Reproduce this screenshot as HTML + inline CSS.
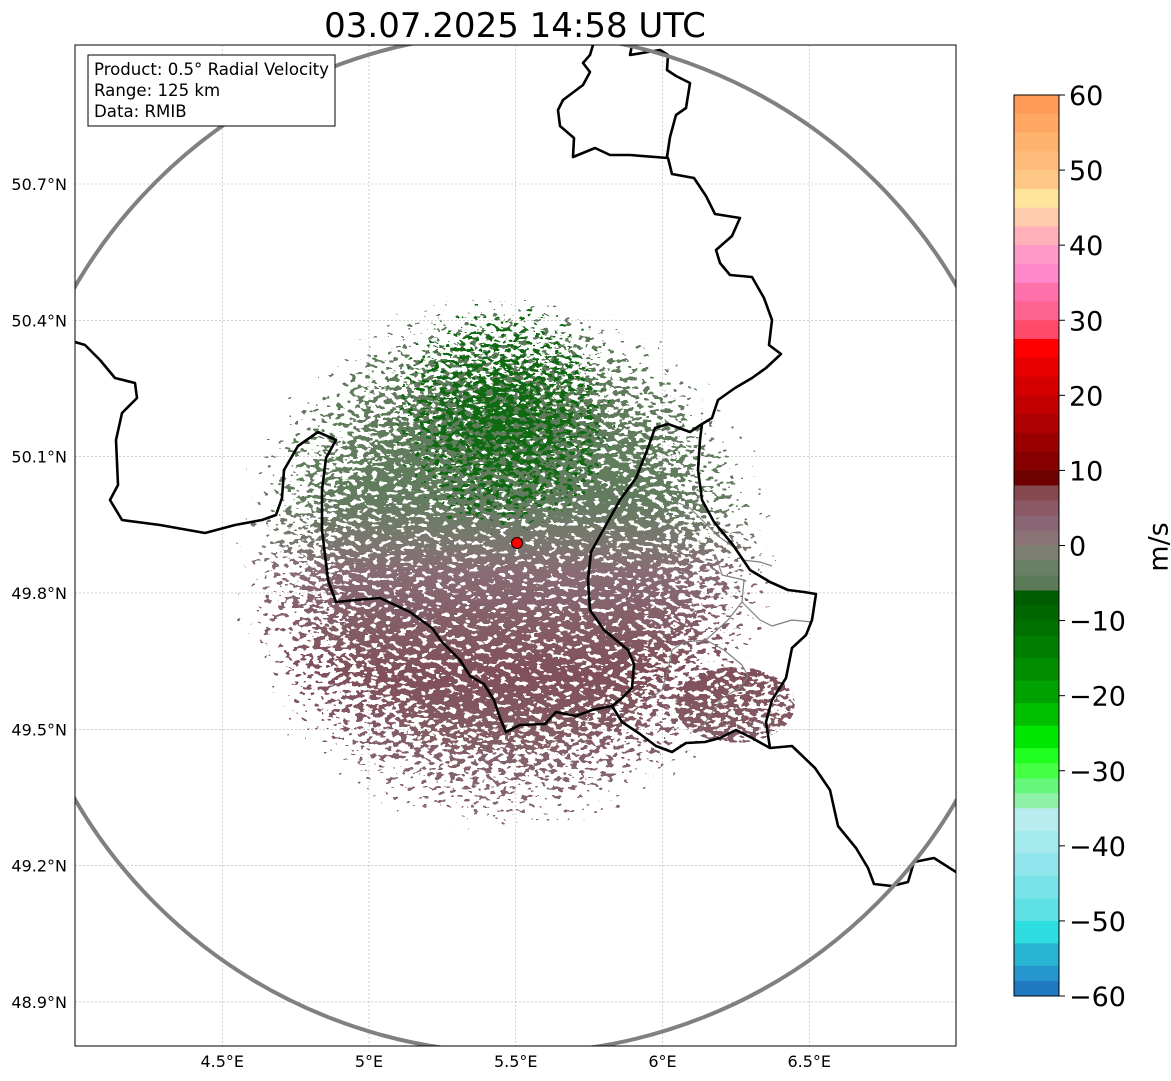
<!DOCTYPE html>
<html><head><meta charset="utf-8">
<style>
html,body{margin:0;padding:0;background:#fff;}
svg{display:block;font-family:"DejaVu Sans","Liberation Sans",sans-serif;}
</style></head>
<body>
<svg id="chart" width="1171" height="1081" viewBox="0 0 1171 1081" xmlns="http://www.w3.org/2000/svg">
<defs>
  <clipPath id="plotClip"><rect x="75" y="45" width="881" height="1001"/></clipPath>
  <filter id="speckle" filterUnits="userSpaceOnUse" x="75" y="45" width="881" height="1001">
    <feTurbulence type="fractalNoise" baseFrequency="0.14 0.22" numOctaves="2" seed="7" result="noise"/>
    <feColorMatrix in="noise" type="matrix" values="0 0 0 0 0  0 0 0 0 0  0 0 0 0 0  1.6 0 0 0 -0.3" result="na"/>
    <feComposite in="SourceAlpha" in2="na" operator="arithmetic" k1="0" k2="1" k3="1" k4="-0.78" result="sum"/>
    <feComponentTransfer in="sum" result="thr"><feFuncA type="discrete" tableValues="0 1"/></feComponentTransfer>
    <feColorMatrix in="thr" type="matrix" values="0 0 0 0 1  0 0 0 0 1  0 0 0 0 1  0 0 0 1 0"/>
  </filter>
  <filter id="speckle2" filterUnits="userSpaceOnUse" x="75" y="45" width="881" height="1001">
    <feTurbulence type="fractalNoise" baseFrequency="0.15 0.25" numOctaves="2" seed="21" result="noise"/>
    <feColorMatrix in="noise" type="matrix" values="0 0 0 0 0  0 0 0 0 0  0 0 0 0 0  1.8 0 0 0 -0.4" result="na"/>
    <feComposite in="SourceAlpha" in2="na" operator="arithmetic" k1="0" k2="1" k3="1" k4="-0.85" result="sum"/>
    <feComponentTransfer in="sum" result="thr"><feFuncA type="discrete" tableValues="0 1"/></feComponentTransfer>
    <feColorMatrix in="thr" type="matrix" values="0 0 0 0 1  0 0 0 0 1  0 0 0 0 1  0 0 0 1 0"/>
  </filter>
  <radialGradient id="echoAlpha" gradientUnits="userSpaceOnUse" cx="505" cy="565" r="300">
    <stop offset="0" stop-color="#fff" stop-opacity="1"/>
    <stop offset="0.5" stop-color="#fff" stop-opacity="0.95"/>
    <stop offset="0.78" stop-color="#fff" stop-opacity="0.6"/>
    <stop offset="1" stop-color="#fff" stop-opacity="0.1"/>
  </radialGradient>
  <radialGradient id="greenAlpha" gradientUnits="userSpaceOnUse" cx="505" cy="420" r="150">
    <stop offset="0" stop-color="#fff" stop-opacity="1"/>
    <stop offset="0.6" stop-color="#fff" stop-opacity="0.7"/>
    <stop offset="1" stop-color="#fff" stop-opacity="0"/>
  </radialGradient>
  <mask id="echoMask" maskUnits="userSpaceOnUse" x="75" y="45" width="881" height="1001">
    <g filter="url(#speckle)">
      <ellipse cx="505" cy="565" rx="300" ry="290" fill="url(#echoAlpha)"/>
      <ellipse cx="735" cy="705" rx="60" ry="38" fill="#fff" fill-opacity="0.75"/>
    </g>
  </mask>
  <mask id="greenMask" maskUnits="userSpaceOnUse" x="75" y="45" width="881" height="1001">
    <g filter="url(#speckle2)">
      <ellipse cx="505" cy="420" rx="110" ry="140" fill="url(#greenAlpha)"/>
    </g>
  </mask>
  <linearGradient id="echoColor" gradientUnits="userSpaceOnUse" x1="0" y1="280" x2="0" y2="860">
    <stop offset="0" stop-color="#5c7a58"/>
    <stop offset="0.38" stop-color="#637c5f"/>
    <stop offset="0.45" stop-color="#7a7870"/>
    <stop offset="0.5" stop-color="#886c74"/>
    <stop offset="0.68" stop-color="#80505c"/>
    <stop offset="0.85" stop-color="#85646c"/>
    <stop offset="1" stop-color="#8a6a72"/>
  </linearGradient>
</defs>

<rect x="0" y="0" width="1171" height="1081" fill="#fff"/>
<text x="515" y="37" font-size="34" text-anchor="middle" fill="#000">03.07.2025 14:58 UTC</text>

<g id="grid" clip-path="url(#plotClip)"></g>

<g clip-path="url(#plotClip)">
  <rect x="75" y="45" width="881" height="1001" fill="url(#echoColor)" mask="url(#echoMask)"/>
  <rect x="75" y="45" width="881" height="1001" fill="#0f6a12" mask="url(#greenMask)"/>
</g>

<g id="borders" clip-path="url(#plotClip)" fill="none" stroke-linejoin="round"></g>

<circle cx="516" cy="543" r="510" fill="none" stroke="#808080" stroke-width="4" clip-path="url(#plotClip)"/>
<circle cx="517" cy="543" r="5.5" fill="#ff0000" stroke="#000" stroke-width="1"/>

<rect x="75" y="45" width="881" height="1001" fill="none" stroke="#000" stroke-width="1"/>

<g>
  <rect x="88" y="55" width="247" height="71" fill="#fff" stroke="#000" stroke-width="1"/>
  <text x="94" y="75" font-size="16.6" fill="#000" textLength="235">Product: 0.5° Radial Velocity</text>
  <text x="94" y="96" font-size="16.6" fill="#000">Range: 125 km</text>
  <text x="94" y="117" font-size="16.6" fill="#000">Data: RMIB</text>
</g>

<g id="xticks"></g>
<g id="yticks"></g>
<g id="cbar"></g>
<text x="1160" y="547" font-size="27" text-anchor="middle" transform="rotate(-90 1160 547)" dominant-baseline="middle">m/s</text>
</svg>

<script>
const lonTicks = [4.5, 5, 5.5, 6, 6.5];
const lonLabels = ["4.5°E", "5°E", "5.5°E", "6°E", "6.5°E"];
const latTicks = [50.7, 50.4, 50.1, 49.8, 49.5, 49.2, 48.9];
const latLabels = ["50.7°N", "50.4°N", "50.1°N", "49.8°N", "49.5°N", "49.2°N", "48.9°N"];
const cbarTicks = [60, 50, 40, 30, 20, 10, 0, -10, -20, -30, -40, -50, -60];
const cbarEdges = [60,57.5,55,52.5,50,47.5,45,42.5,40,37.5,35,32.5,30,27.5,25,22.5,20,17.5,15,12.5,10,8,6,4,2,0,-2,-4,-6,-8,-10,-12,-15,-18,-21,-24,-27,-29,-31,-33,-35,-38,-41,-44,-47,-50,-53,-56,-58,-60];
const cbarColors = ["#ff9b57","#ffa663","#ffb16e","#ffbb79","#ffc785","#ffe59b","#ffccad","#ffb0b8","#ff99c8","#ff87cc","#ff71ab","#ff6392","#ff4a6a","#ff0000","#e80000","#d40000","#c20000","#ae0000","#9a0000","#860000","#6e0000","#874950","#8b5a66","#8a6674","#8b7378","#7c7e72","#698066","#5a7a58","#005c00","#006600","#007000","#007e00","#008e00","#00a200","#00bf00","#00e600","#20ff20","#44ff44","#66f77a","#8ff2a8","#b8ecee","#a5eaee","#90e6ec","#78e3e8","#5fe0e5","#2ddde0","#27b5d3","#2697ce","#1f78c0"];

const NS = "http://www.w3.org/2000/svg";
function X(lon){ return 369 + (lon - 5) * 293.5; }
function Y(lat){ return 184 + (50.7 - lat) * 454.4; }
function CY(v){ return 95 + (60 - v) * (901 / 120); }
function mk(tag, attrs, parent){ const e = document.createElementNS(NS, tag); for (const k in attrs) e.setAttribute(k, attrs[k]); parent.appendChild(e); return e; }

const grid = document.getElementById('grid');
const xt = document.getElementById('xticks');
const yt = document.getElementById('yticks');
lonTicks.forEach((v, i) => {
  const x = X(v);
  const gl = mk('line', {x1:x, y1:45, x2:x, y2:1046, stroke:'#b0b0b0', 'stroke-width':0.6, 'stroke-dasharray':'2,2'}, grid);
  
  
  const t = mk('text', {x:x, y:1067, 'font-size':16, 'text-anchor':'middle', fill:'#000'}, xt);
  t.textContent = lonLabels[i];
  
  
});
latTicks.forEach((v, i) => {
  const y = Y(v);
  const gl = mk('line', {x1:75, y1:y, x2:956, y2:y, stroke:'#b0b0b0', 'stroke-width':0.6, 'stroke-dasharray':'2,2'}, grid);
  
  
  const t = mk('text', {x:67, y:y + 6, 'font-size':16, 'text-anchor':'end', fill:'#000'}, yt);
  t.textContent = latLabels[i];
  
  
});

const cb = document.getElementById('cbar');
cbarColors.forEach((c, i) => {
  const y1 = CY(cbarEdges[i]), y2 = CY(cbarEdges[i + 1]);
  const r = mk('rect', {x:1014, y:y1, width:45, height:(y2 - y1) + 0.5, fill:c}, cb);
  
  
});
const fr = mk('rect', {x:1014, y:95, width:45, height:901, fill:'none', stroke:'#000', 'stroke-width':1}, cb);


cbarTicks.forEach(v => {
  const y = CY(v);
  const tl = mk('line', {x1:1059, y1:y, x2:1065, y2:y, stroke:'#000', 'stroke-width':1}, cb);
  
  
  const t = mk('text', {x:1069, y:y + 10, 'font-size':27, fill:'#000'}, cb);
  t.textContent = v < 0 ? '\u2212' + Math.abs(v) : String(v);
  
  
});

const bordersBlack = [
  [[75,342],[85,345],[100,360],[115,378],[135,383],[137,398],[122,413],[116,440],[118,485],[110,500],[122,520],[160,525],[205,533],[235,525],[262,520],[276,515],[282,498],[284,470],[298,446],[318,432],[336,440],[326,458],[322,490],[322,530],[328,580],[336,602],[356,600],[380,598],[410,612],[432,628],[442,642],[460,660],[470,676],[484,684],[494,700],[500,718],[506,732],[520,725],[545,724],[556,712],[576,716],[592,710],[612,706],[622,698],[632,688],[634,664],[628,650],[604,630],[590,610],[588,580],[591,552],[606,525],[620,500],[636,478],[648,448],[655,428],[668,424],[690,432],[702,424],[712,418],[718,400],[735,388],[752,378],[766,368],[781,354],[769,345],[772,320],[764,298],[752,277],[730,275],[720,263],[716,250],[732,236],[740,218],[715,214],[706,196],[694,178],[672,174],[668,158],[630,155],[610,155],[595,148],[573,157],[574,138],[560,126],[558,110],[563,100],[583,85],[590,72],[583,63],[590,55],[593,45]],
  [[632,45],[630,55],[660,50],[668,55],[667,70],[676,76],[690,83],[686,108],[676,115],[670,137],[667,157]],
  [[702,424],[700,440],[698,470],[702,500],[714,522],[733,545],[750,570],[770,582],[788,590],[804,592],[816,594],[812,620],[806,635],[792,648],[786,678],[772,700],[766,722],[770,748]],
  [[612,706],[622,722],[640,734],[656,746],[672,752],[686,743],[705,742],[720,738],[736,730],[752,738],[770,748],[792,746],[815,768],[830,790],[838,826],[856,848],[868,868],[874,884],[892,886],[908,882],[914,862],[934,858],[956,872]]
];
const bordersGray = [
  [[672,500],[690,508],[702,520],[718,536],[735,548],[742,560],[760,562],[772,566]],
  [[716,556],[722,575],[744,580],[742,602],[760,620],[772,626],[792,620],[812,622]],
  [[742,602],[728,620],[706,640],[684,642],[672,650],[668,670],[662,690],[648,700]],
  [[706,640],[724,650],[742,665],[748,676],[740,688],[722,698],[714,710],[700,730]]
];
const bg = document.getElementById('borders');
bordersGray.forEach(line => {
  const p = mk('polyline', {points: line.map(q => q.join(',')).join(' '), stroke:'#808080', 'stroke-width':1.2}, bg);
  
  
});
bordersBlack.forEach(line => {
  const p = mk('polyline', {points: line.map(q => q.join(',')).join(' '), stroke:'#000', 'stroke-width':2.6}, bg);
  
  
});
</script>
</body></html>
